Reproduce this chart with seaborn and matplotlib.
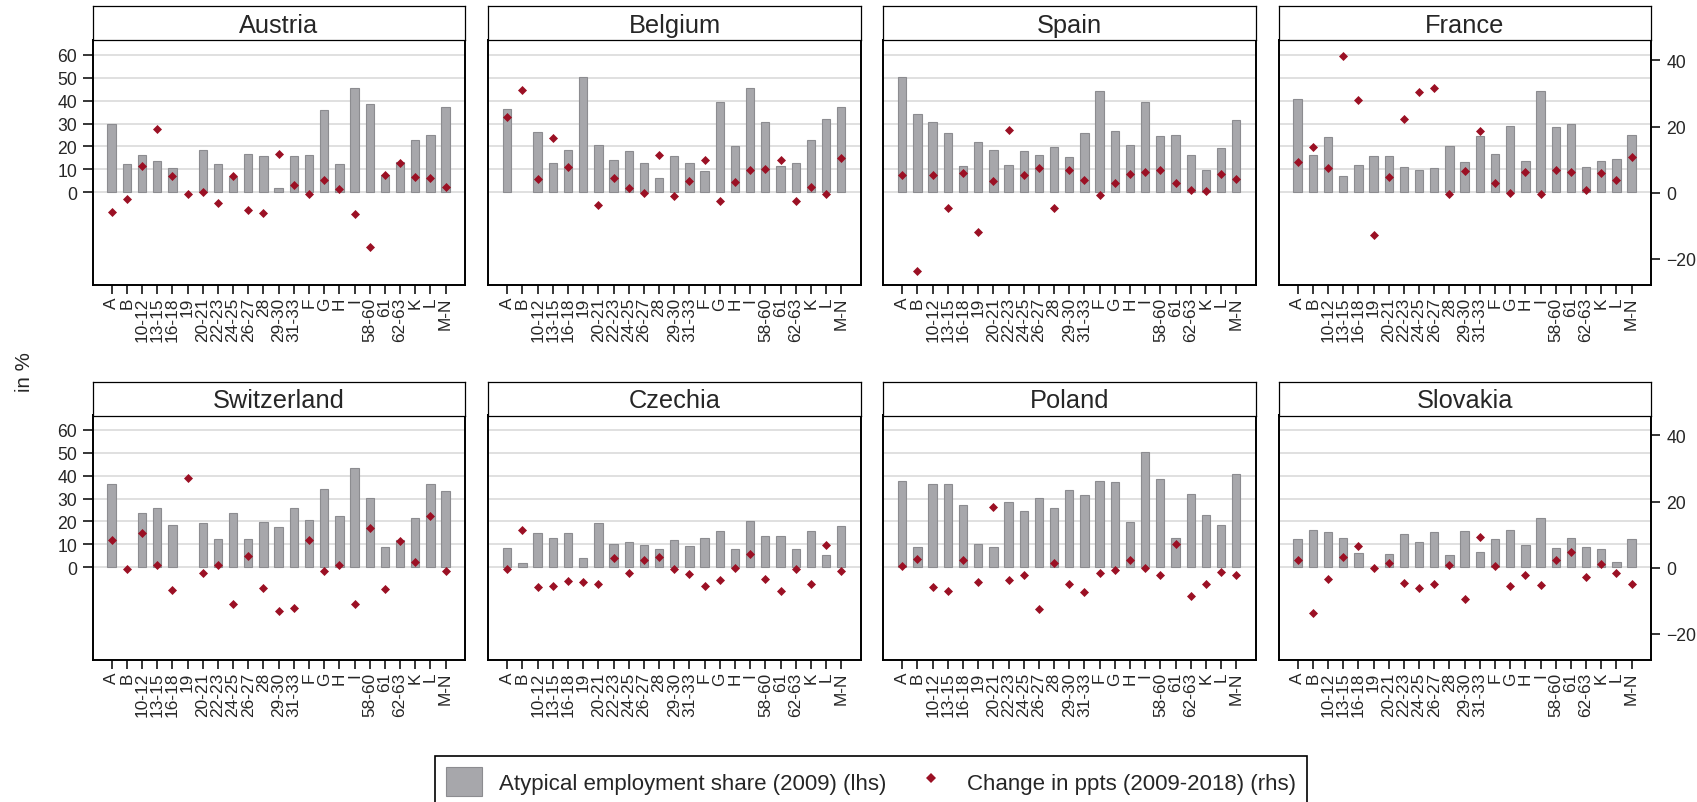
"""
Atypical employment share (2009) by sector, with change 2009-2018,
for eight countries in a 2x4 panel layout (bars on lhs, diamonds on rhs).
"""
import numpy as np
import pandas as pd
import matplotlib
matplotlib.use("Agg")
import matplotlib.pyplot as plt
from matplotlib.patches import Patch
from matplotlib.lines import Line2D
import seaborn as sns

nan = np.nan

SECTORS = ["A", "B", "10-12", "13-15", "16-18", "19", "20-21", "22-23", "24-25",
           "26-27", "28", "29-30", "31-33", "F", "G", "H", "I", "58-60", "61",
           "62-63", "K", "L", "M-N"]

COUNTRIES = ["Austria", "Belgium", "Spain", "France",
             "Switzerland", "Czechia", "Poland", "Slovakia"]

# atypical employment share 2009 (lhs, in %)
AT_SHARE = [29.7, 12.2, 16.4, 13.8, 10.5, nan, 18.6, 12.5, 6.5, 16.7, 16.0, 2.0,
            16.0, 16.4, 36.1, 12.5, 45.4, 38.4, 7.7, 13.1, 22.7, 25.0, 37.3]
BE_SHARE = [36.2, nan, 26.5, 13.0, 18.5, 50.4, 20.8, 14.0, 17.9, 13.0, 6.3, 15.7,
            13.0, 9.2, 39.3, 20.4, 45.4, 30.7, 11.5, 12.7, 22.9, 31.9, 37.4]
ES_SHARE = [50.5, 34.1, 30.7, 25.8, 11.6, 21.8, 18.5, 12.1, 17.9, 16.3, 19.9, 15.3,
            26.1, 44.3, 26.9, 20.8, 39.3, 24.7, 24.9, 16.3, 9.9, 19.4, 31.6]
FR_SHARE = [40.8, 16.4, 24.3, 7.0, 11.8, 16.0, 15.9, 11.2, 9.9, 10.8, 20.1, 13.2,
            24.6, 16.7, 29.0, 13.8, 44.3, 28.5, 29.8, 10.9, 13.7, 14.4, 25.0]
CH_SHARE = [36.2, nan, 23.8, 25.7, 18.5, nan, 19.2, 12.2, 23.7, 12.2, 19.6, 17.6,
            25.7, 20.6, 34.0, 22.5, 43.2, 30.4, 8.7, 12.1, 21.5, 36.5, 33.1]
CZ_SHARE = [8.3, 1.7, 15.0, 12.9, 15.0, 4.2, 19.5, 10.3, 11.0, 9.6, 8.0, 12.1,
            9.4, 12.9, 15.7, 8.0, 20.2, 13.7, 13.7, 8.0, 16.0, 5.5, 18.0]
PL_SHARE = [37.6, 9.0, 36.3, 36.5, 27.3, 10.2, 8.7, 28.3, 24.4, 30.2, 26.0, 33.6,
            31.7, 37.6, 37.1, 19.9, 50.4, 38.5, 12.6, 32.1, 22.8, 18.3, 40.6]
SK_SHARE = [12.2, 16.1, 15.4, 12.6, 6.4, nan, 6.0, 14.5, 11.0, 15.3, 5.5, 15.7,
            6.5, 12.2, 16.4, 9.9, 21.4, 8.6, 12.9, 8.7, 8.0, 2.2, 12.2]

# change in ppts 2009-2018 (rhs)
AT_CHANGE = [-5.9, -1.9, 8.0, 19.3, 5.1, -0.3, 0.3, -3.1, 4.9, -5.2, -6.2, 11.8,
             2.3, -0.3, 3.9, 1.2, -6.5, -16.6, 5.3, 9.1, 4.8, 4.4, 1.7]
BE_CHANGE = [22.9, 31.1, 4.1, 16.5, 7.8, nan, -3.8, 4.3, 1.5, 0.0, 11.4, -1.0,
             3.5, 9.9, -2.7, 3.1, 6.7, 7.2, 9.9, -2.6, 1.8, -0.3, 10.4]
ES_CHANGE = [5.4, -23.8, 5.3, -4.7, 5.8, -12.0, 3.5, 18.8, 5.2, 7.4, -4.7, 6.8,
             3.9, -0.8, 3.0, 5.6, 6.3, 6.8, 2.9, 0.7, 0.5, 5.5, 4.1]
FR_CHANGE = [9.2, 13.8, 7.5, 41.5, 28.0, -12.8, 4.7, 22.3, 30.4, 31.6, -0.3, 6.4,
             18.6, 3.0, 0.0, 6.3, -0.3, 6.7, 6.3, 0.7, 5.9, 3.9, 10.7]
CH_CHANGE = [8.4, -0.3, 10.4, 0.8, -6.8, 27.0, -1.5, 0.7, -11.1, 3.4, -6.3, -13.2,
             -12.4, 8.2, -1.0, 0.7, -11.0, 11.9, -6.4, 8.0, 1.7, 15.7, -1.0]
CZ_CHANGE = [-0.5, 11.4, -5.8, -5.6, -4.1, -4.4, -5.0, 2.9, -1.5, 2.4, 3.2, -0.5,
             -1.9, -5.5, -3.7, 0.0, 4.0, -3.6, -7.0, -0.5, -5.0, 6.7, -1.0]
PL_CHANGE = [0.6, 2.6, -6.0, -7.2, 2.2, -4.3, 18.4, -3.9, -2.2, -12.6, 1.3, -5.0,
             -7.5, -1.6, -0.6, 2.4, -0.2, -2.3, 7.0, -8.5, -5.0, -1.2, -2.3]
SK_CHANGE = [2.3, -13.8, -3.5, 3.1, 6.6, -0.2, 1.4, -4.6, -6.2, -4.9, 0.8, -9.5,
             9.2, 0.6, -5.7, -2.2, -5.4, 2.3, 4.8, -2.9, 1.2, -1.5, -5.0]

SHARES = [AT_SHARE, BE_SHARE, ES_SHARE, FR_SHARE, CH_SHARE, CZ_SHARE, PL_SHARE, SK_SHARE]
CHANGES = [AT_CHANGE, BE_CHANGE, ES_CHANGE, FR_CHANGE, CH_CHANGE, CZ_CHANGE, PL_CHANGE, SK_CHANGE]

LEFT_TICKS = [0, 10, 20, 30, 40, 50, 60]
RIGHT_TICKS = [-20, 0, 20, 40]
LEGEND_LABELS = ["Atypical employment share (2009) (lhs)",
                 "Change in ppts (2009-2018) (rhs)"]

BAR_COLOR = "#A7A7AB"
BAR_EDGE = "#8C8C90"
DOT_COLOR = "#9B1024"
GRID_COLOR = "#DDDDDD"
DOT_SIZE = 4.6

# figure geometry in pixels
W, H = 1697, 803
COL_LEFT = [92.7, 488.3, 883.3, 1278.7]
PANEL_W = 372.5
PLOT_TOP = [41, 416]
PLOT_H = 245
STRIP_TOP = [7, 382.7]
STRIP_H = 34


def build_frame():
    rows = []
    for country, share, change in zip(COUNTRIES, SHARES, CHANGES):
        rows.append(pd.DataFrame({"country": country, "sector": SECTORS,
                                  "share": share, "change": change}))
    return pd.concat(rows, ignore_index=True)


df = build_frame()

sns.set_style("white")
plt.rcParams["font.family"] = ["Liberation Sans", "DejaVu Sans"]

fig = plt.figure(figsize=(W / 100, H / 100), dpi=100)

for i, country in enumerate(COUNTRIES):
    row, col = divmod(i, 4)
    sub = df[df["country"] == country]

    ax = fig.add_axes([COL_LEFT[col] / W, 1 - (PLOT_TOP[row] + PLOT_H) / H,
                       PANEL_W / W, PLOT_H / H])
    sns.barplot(data=sub, x="sector", y="share", order=SECTORS, color=BAR_COLOR,
                saturation=1, width=0.55, edgecolor=BAR_EDGE, linewidth=0.8,
                errorbar=None, ax=ax)
    ax2 = ax.twinx()
    sns.stripplot(data=sub, x="sector", y="change", order=SECTORS, jitter=False,
                  marker="D", size=DOT_SIZE, color=DOT_COLOR, linewidth=0, ax=ax2,
                  zorder=5)

    ax.set_xlim(-1.25, 23.29)
    ax.set_ylim(-40.5, 66.5)
    ax2.set_ylim(-28.0, 46.2)
    ax.set_yticks(LEFT_TICKS)
    ax2.set_yticks(RIGHT_TICKS)
    ax.set_xlabel("")
    ax.set_ylabel("")
    ax2.set_ylabel("")

    ax.set_axisbelow(True)
    ax.yaxis.grid(True, color=GRID_COLOR, linewidth=1.3)
    ax.xaxis.grid(False)

    for s in ax.spines.values():
        s.set_visible(True)
        s.set_color("black")
        s.set_linewidth(1.4)
    for s in ax2.spines.values():
        s.set_visible(False)

    ax.tick_params(axis="x", bottom=True, direction="out", length=6.5, width=1.1,
                   pad=2, labelsize=12.4, labelrotation=90, color="black")
    ax.tick_params(axis="y", left=(col == 0), labelleft=(col == 0), direction="out",
                   length=7.2, width=1.1, pad=4, labelsize=12.7, color="black")
    ax2.tick_params(axis="y", right=(col == 3), labelright=(col == 3), direction="out",
                    length=6.8, width=1.1, pad=4, labelsize=12.7, color="black")

    # header strip with country name
    sax = fig.add_axes([COL_LEFT[col] / W, 1 - (STRIP_TOP[row] + STRIP_H) / H,
                        PANEL_W / W, STRIP_H / H])
    sax.set_xticks([])
    sax.set_yticks([])
    sax.set_facecolor("white")
    for s in sax.spines.values():
        s.set_visible(True)
        s.set_color("black")
        s.set_linewidth(0.9)
    sax.text(0.5, 0.245, country, transform=sax.transAxes, ha="center",
             va="baseline", fontsize=18.3)

fig.text(25 / W, 1 - 372 / H, "in %", rotation=90, ha="center", va="center",
         fontsize=14.8)

handles = [Patch(facecolor=BAR_COLOR, edgecolor=BAR_EDGE, linewidth=0.8),
           Line2D([], [], ls="", marker="D", markersize=DOT_SIZE, color=DOT_COLOR,
                  markeredgewidth=0)]
leg = fig.legend(handles, LEGEND_LABELS, ncol=2, loc="upper left",
                 bbox_to_anchor=(435 / W, 1 - 757 / H), borderaxespad=0,
                 fontsize=16, frameon=True, fancybox=False, framealpha=1,
                 edgecolor="black", handlelength=1.6, handleheight=1.6,
                 handletextpad=0.8, columnspacing=1.2, borderpad=0.5)
leg.get_frame().set_linewidth(1.2)

fig.savefig("out.png", dpi=100)
